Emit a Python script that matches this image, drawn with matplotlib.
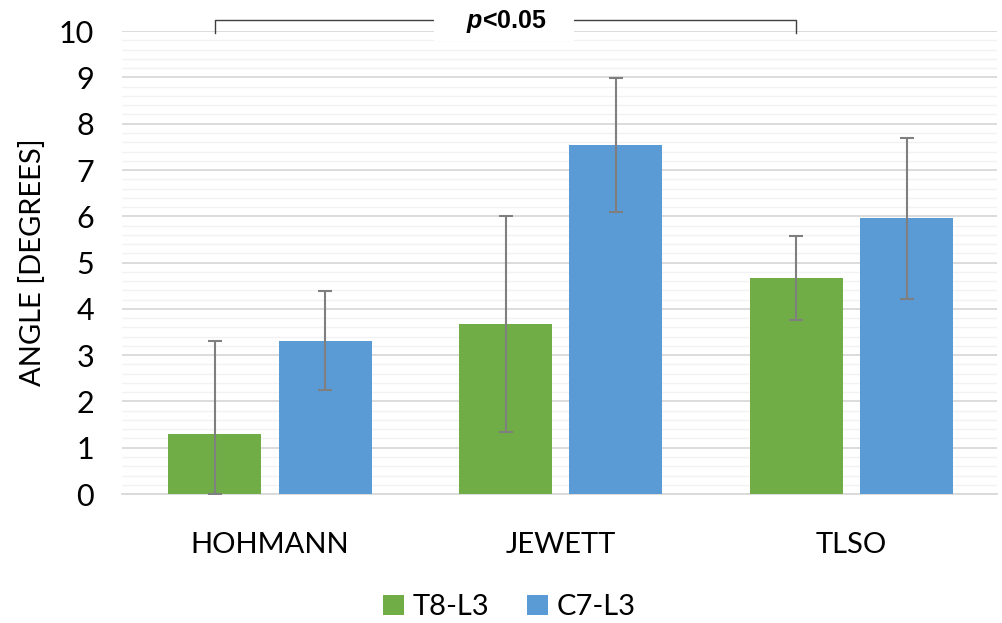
import matplotlib.pyplot as plt
import numpy as np

categories = ["HOHMANN", "JEWETT", "TLSO"]
t8_l3 = [1.30, 3.67, 4.67]
t8_l3_err = [2.0, 2.33, 0.9]
c7_l3 = [3.31, 7.54, 5.96]
c7_l3_err = [1.07, 1.45, 1.74]
y_ticks = list(range(0, 11))

green = '#70AD47'
blue = '#5B9BD5'
err_color = '#7F7F7F'

plt.rcParams['font.family'] = ['Lato', 'DejaVu Sans']
plt.rcParams['mathtext.fontset'] = 'custom'
plt.rcParams['mathtext.it'] = 'Liberation Sans:italic:bold'
plt.rcParams['mathtext.rm'] = 'Liberation Sans:bold'

fig = plt.figure(figsize=(10.03, 6.23), dpi=100)
ax = fig.add_axes([0.1216, 0.207, 0.872, 0.743])

x = np.arange(len(categories))
w = 0.32
off = 0.19
err_kw = dict(ecolor=err_color, elinewidth=1.5, capsize=4.7, capthick=1.5)

# lower error bars are clipped at zero in the original
t8_low = [min(v, e) for v, e in zip(t8_l3, t8_l3_err)]
ax.bar(x - off, t8_l3, w, color=green, label='T8-L3', zorder=3,
       yerr=[t8_low, t8_l3_err], error_kw=err_kw)
ax.bar(x + off, c7_l3, w, color=blue, label='C7-L3', zorder=3,
       yerr=c7_l3_err, error_kw=err_kw)

ax.set_xlim(-0.51, 2.5)
ax.set_ylim(0, 10)
ax.set_yticks(y_ticks)
ax.set_yticks(np.arange(0, 10.01, 0.2), minor=True)
ax.set_xticks(x)
ax.set_xticklabels(categories, fontsize=21)
ax.tick_params(axis='y', labelsize=22, length=0, pad=20, which='both')
ax.tick_params(axis='x', length=0, pad=27)
ax.grid(axis='y', which='major', color='#D9D9D9', linewidth=1.3, zorder=0)
ax.grid(axis='y', which='minor', color='#F2F2F2', linewidth=1.0, zorder=0)
for s in ['top', 'right', 'left']:
    ax.spines[s].set_visible(False)
ax.spines['bottom'].set_color('#D9D9D9')
ax.spines['bottom'].set_linewidth(1.3)
ax.set_ylabel('ANGLE [DEGREES]', fontsize=21, labelpad=9)

# significance bracket
x0, x1 = x[0] - off, x[2] - off
ax.plot([x0, x0, x1, x1], [9.96, 10.25, 10.25, 9.96], color='#404040',
        linewidth=1.0, clip_on=False, zorder=4)
ax.text((x0 + x1) / 2 - 0.005, 10.2, '\u00a0\u00a0\u00a0\u00a0$p$<0.05\u00a0\u00a0\u00a0\u00a0',
        ha='center', va='center',
        fontsize=18, fontweight='bold', family=['Liberation Sans'],
        bbox=dict(facecolor='white', edgecolor='none', pad=4.0),
        clip_on=False, zorder=5)

ax.legend(loc='center', bbox_to_anchor=(0.443, -0.244), ncol=2, frameon=False,
          fontsize=21, handlelength=0.7, handleheight=0.7, handletextpad=0.3,
          columnspacing=1.3)

fig.savefig('out.png', dpi=100)
